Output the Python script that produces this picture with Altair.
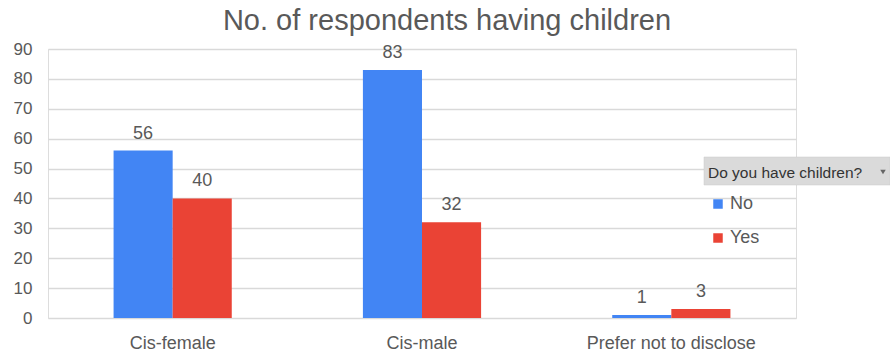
import altair as alt
import pandas as pd

categories = ["Cis-female", "Cis-male", "Prefer not to disclose"]
answers = ["No", "Yes"]
no_values = [56, 83, 1]
yes_values = [40, 32, 3]
colors = ["#4285F4", "#EA4335"]
title_text = "No. of respondents having children"
legend_header = "Do you have children?"
y_ticks = [0, 10, 20, 30, 40, 50, 60, 70, 80, 90]

rows = []
for c, n, y in zip(categories, no_values, yes_values):
    rows.append({"category": c, "answer": "No", "value": n})
    rows.append({"category": c, "answer": "Yes", "value": y})
df = pd.DataFrame(rows)

FONT = "Liberation Sans"
GRAY = "#595959"

x_enc = alt.X("category:N", sort=categories, title=None,
              scale=alt.Scale(paddingInner=0.526, paddingOuter=0.263),
              axis=alt.Axis(labelAngle=0, labelFontSize=18, labelColor=GRAY,
                            labelFont=FONT, labelPadding=16, ticks=False,
                            domain=False, grid=False))
y_enc = alt.Y("value:Q", title=None,
              scale=alt.Scale(domain=[0, 90], nice=False),
              axis=alt.Axis(values=y_ticks, labelFontSize=17, labelColor=GRAY,
                            labelFont=FONT, labelPadding=16, ticks=False,
                            domain=False, gridColor="#d9d9d9", gridWidth=1.3))
color_enc = alt.Color("answer:N", sort=answers,
                      scale=alt.Scale(domain=answers, range=colors),
                      legend=alt.Legend(orient="none", legendX=661, legendY=146,
                                        title=None, symbolType="square",
                                        symbolSize=90, symbolStrokeWidth=0,
                                        labelFontSize=18, labelColor=GRAY,
                                        labelFont=FONT, rowPadding=16,
                                        labelOffset=3, padding=0))
off_enc = alt.XOffset("answer:N", sort=answers)

bars = alt.Chart(df).mark_bar().encode(x=x_enc, y=y_enc, color=color_enc, xOffset=off_enc)
labels = alt.Chart(df).mark_text(dy=-12, baseline="alphabetic", fontSize=18,
                                 font=FONT, color=GRAY).encode(
    x=x_enc, y=y_enc, xOffset=off_enc, text="value:Q")

hdr = pd.DataFrame({"t": [legend_header]})
box = alt.Chart(hdr).mark_rect(color="#dadada", stroke="#c8c8c8", strokeWidth=0.5).encode(
    x=alt.value(656), x2=alt.value(842), y=alt.value(108), y2=alt.value(136))
hdr_text = alt.Chart(hdr).mark_text(align="left", baseline="alphabetic", fontSize=15.5,
                                    font=FONT, color="#333333").encode(
    x=alt.value(660), y=alt.value(129), text="t:N")
arrow = alt.Chart(hdr).mark_point(shape="triangle-down", filled=True, color="#333333",
                                  size=30).encode(x=alt.value(835), y=alt.value(123))

chart = alt.layer(bars, labels, box, hdr_text, arrow).properties(
    width=748, height=269,
    title=alt.Title(title_text, fontSize=29, font=FONT, color=GRAY,
                    fontWeight="normal", anchor="middle", dx=25, offset=4),
    autosize=alt.AutoSizeParams(type="none"),
    padding={"left": 48, "top": 49, "right": 94, "bottom": 36},
).configure_view(stroke=None).configure(background="white")

chart.save("out.html", embed_options={"renderer": "svg", "actions": False})
